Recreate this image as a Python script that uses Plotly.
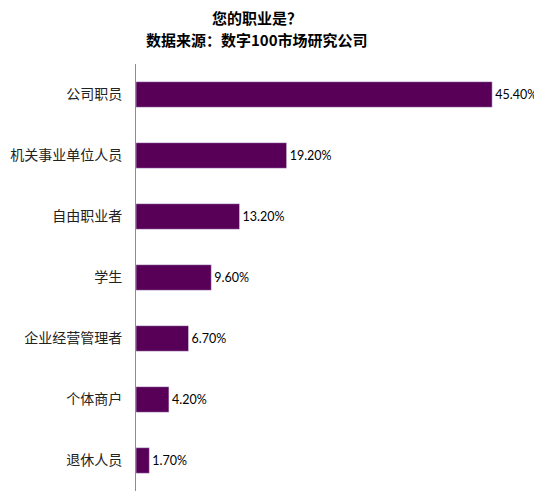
import plotly.graph_objects as go

categories = ["公司职员", "机关事业单位人员", "自由职业者", "学生", "企业经营管理者", "个体商户", "退休人员"]
values = [45.4, 19.2, 13.2, 9.6, 6.7, 4.2, 1.7]
labels = ["45.40%", "19.20%", "13.20%", "9.60%", "6.70%", "4.20%", "1.70%"]
title_lines = ["您的职业是？", "数据来源：数字100市场研究公司"]

fig = go.Figure()
fig.add_trace(go.Bar(
    x=values,
    y=categories,
    orientation="h",
    marker_color="#580058",
    width=0.42,
    text=labels,
    textposition="outside",
    constraintext="none",
    textfont=dict(family="Lato, Liberation Sans, sans-serif", size=12.5, color="#000000"),
    cliponaxis=False,
))

# page body has an 8px margin, so the figure is a bit smaller than the window
fig.update_layout(
    width=534, height=492,
    margin=dict(l=128, r=0, t=56, b=9),
    paper_bgcolor="white", plot_bgcolor="white",
    showlegend=False,
    font=dict(family="Noto Sans CJK SC", size=14, color="#222222"),
)
for line, ypos in zip(title_lines, [1.108, 1.058]):
    fig.add_annotation(
        text="<b>" + line + "</b>",
        xref="paper", yref="paper", x=0.297, y=ypos,
        xanchor="center", yanchor="middle", showarrow=False,
        font=dict(family="Noto Sans CJK SC", size=15, color="black"),
    )
fig.update_xaxes(range=[0, 51.75], visible=False, showgrid=False, automargin=False)
fig.update_yaxes(
    autorange="reversed", showline=True, linecolor="#8c8c8c", linewidth=1,
    ticks="", showgrid=False, ticklabelstandoff=10, automargin=False,
    tickfont=dict(family="Noto Sans CJK SC", size=14, color="#222222"),
)

fig.write_html("out.html")
